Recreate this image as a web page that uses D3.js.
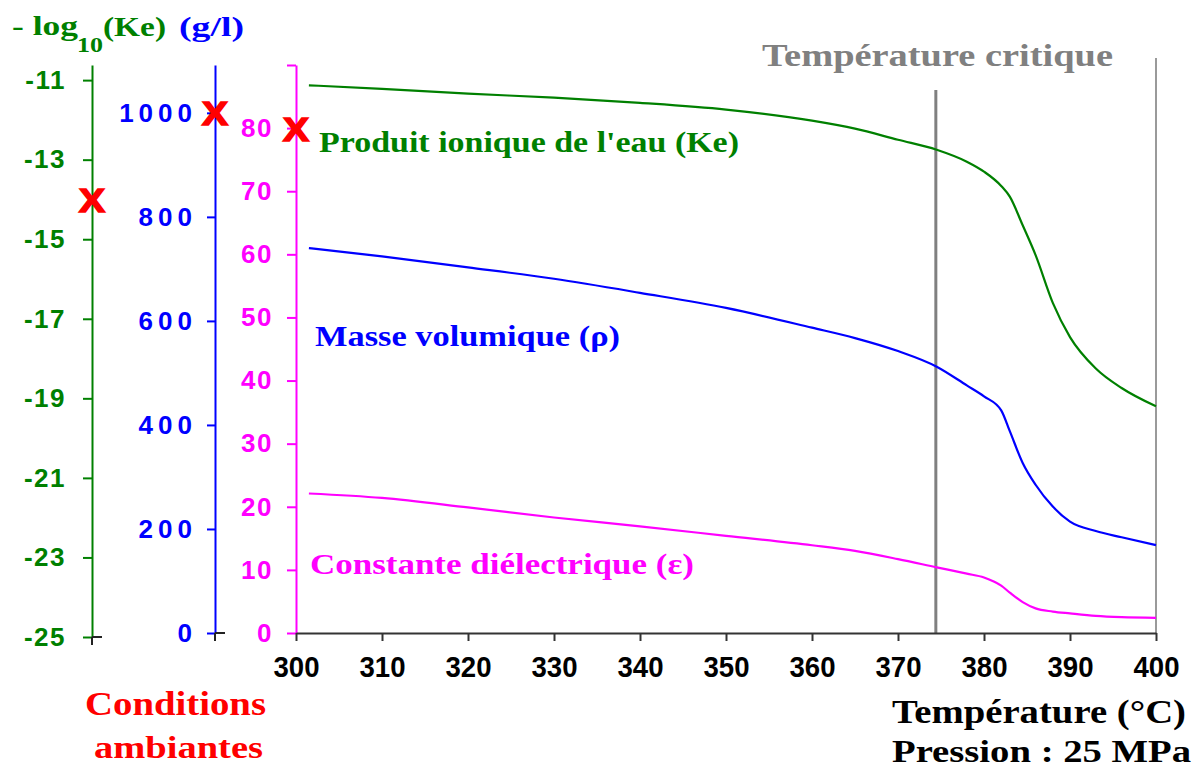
<!DOCTYPE html>
<html><head><meta charset="utf-8">
<script src="https://cdn.jsdelivr.net/npm/d3@7"></script>
<style>body{margin:0;background:#fff;} svg{display:block}</style>
</head><body><svg id="c" width="1199" height="771"></svg>
<script>
// ---- data ----
const temperature = [301.5, 310, 320, 330, 340, 350, 360, 365, 370, 374.5, 378, 380, 382, 383, 384.5, 386, 388, 390, 393, 396, 400];
const logKe       = [-11.13, -11.22, -11.34, -11.44, -11.57, -11.74, -12.02, -12.22, -12.50, -12.75, -13.05, -13.30, -13.66, -13.93, -14.65, -15.4, -16.6, -17.46, -18.25, -18.74, -19.2];
const density     = [740, 724, 703, 681, 654, 625, 587, 567, 542, 512, 476, 455, 428, 388, 327, 285, 243, 214, 196, 184, 169];
const dielectric  = [22.1, 21.4, 19.9, 18.3, 16.9, 15.4, 13.9, 13.0, 11.7, 10.4, 9.4, 8.8, 7.5, 6.4, 4.9, 3.9, 3.4, 3.1, 2.7, 2.5, 2.4];

const xTicks   = [300, 310, 320, 330, 340, 350, 360, 370, 380, 390, 400];
const keTicks  = [-11, -13, -15, -17, -19, -21, -23, -25];
const rhoTicks = [0, 200, 400, 600, 800, 1000];
const epsTicks = [0, 10, 20, 30, 40, 50, 60, 70, 80, 90];

const ambientKe = -14, ambientRho = 1000, ambientEps = 80;
const criticalT = 374.4;

const GREEN = "#008000", BLUE = "#0000ff", MAG = "#ff00ff", RED = "#ff0000", GREY = "#808080";
const SANS = "'Liberation Sans', Arial, sans-serif";
const SERIF = "'Liberation Serif', 'Times New Roman', serif";

const svg = d3.select("#c");

// ---- scales ----
const x    = d3.scaleLinear([300, 400], [296, 1156]);
const yKe  = d3.scaleLinear([-25, -10.62], [637, 65]);
const yRho = d3.scaleLinear([0, 1092], [633, 65]);
const yEps = d3.scaleLinear([0, 90], [633, 65]);

// ---- reference lines ----
svg.append("line").attr("x1", x(400)).attr("x2", x(400)).attr("y1", 58).attr("y2", yEps(0))
  .attr("stroke", "#9a9a9a").attr("stroke-width", 2);
svg.append("line").attr("x1", x(criticalT)).attr("x2", x(criticalT)).attr("y1", 90).attr("y2", yEps(0))
  .attr("stroke", GREY).attr("stroke-width", 3);

// ---- axes ----
function styleAxis(g, color, labelX, spacing) {
  g.select(".domain").attr("stroke", color).attr("stroke-width", 2);
  g.selectAll(".tick line").attr("stroke", color).attr("stroke-width", 2);
  g.selectAll(".tick text").attr("fill", color).attr("x", labelX)
    .style("font-family", SANS).style("font-weight", "bold").style("font-size", "26px")
    .style("letter-spacing", spacing + "px");
}

const gKe = svg.append("g").attr("transform", "translate(92,0)")
  .call(d3.axisLeft(yKe).tickValues(keTicks).tickSizeInner(9).tickSizeOuter(0).tickFormat(d => d));
styleAxis(gKe, GREEN, -26, 1.5);

const gRho = svg.append("g").attr("transform", "translate(215,0)")
  .call(d3.axisLeft(yRho).tickValues(rhoTicks).tickSizeInner(8).tickSizeOuter(0).tickFormat(d => d));
styleAxis(gRho, BLUE, -18, 5);

const gEps = svg.append("g").attr("transform", "translate(296,0)")
  .call(d3.axisLeft(yEps).tickValues(epsTicks).tickSizeInner(9).tickSizeOuter(0).tickFormat(d => d === 90 ? "" : d));
styleAxis(gEps, MAG, -23, 1.5);

const gX = svg.append("g").attr("transform", `translate(0,${yEps(0)})`)
  .call(d3.axisBottom(x).tickValues(xTicks).tickSizeInner(8).tickSizeOuter(0));
gX.select(".domain").attr("stroke", "#333").attr("stroke-width", 2);
gX.selectAll(".tick line").attr("stroke", "#333").attr("stroke-width", 2);
gX.selectAll(".tick text").attr("fill", "#000").attr("y", 33).attr("dy", "0.36em")
  .attr("textLength", 46).attr("lengthAdjust", "spacingAndGlyphs")
  .style("font-family", SANS).style("font-weight", "bold").style("font-size", "30px");

// black stubs at the foot of the green and blue axes
[[92, yKe(-25)], [215, yRho(0)]].forEach(([ax, ay]) => {
  svg.append("line").attr("x1", ax).attr("x2", ax + 10).attr("y1", ay).attr("y2", ay).attr("stroke", "#222").attr("stroke-width", 2);
  svg.append("line").attr("x1", ax).attr("x2", ax).attr("y1", ay).attr("y2", ay + 8).attr("stroke", "#222").attr("stroke-width", 2);
});

// ---- curves ----
function curve(values, yScale, color) {
  const pts = temperature.map((t, i) => [t, values[i]]);
  svg.append("path").datum(pts)
    .attr("fill", "none").attr("stroke", color).attr("stroke-width", 2.2)
    .attr("d", d3.line().x(d => x(d[0])).y(d => yScale(d[1])).curve(d3.curveMonotoneX));
}
curve(logKe, yKe, GREEN);
curve(density, yRho, BLUE);
curve(dielectric, yEps, MAG);

// ---- ambient markers ----
[[92, yKe(ambientKe)], [215, yRho(ambientRho)], [296, yEps(ambientEps)]].forEach(([mx, my]) => {
  svg.append("text").attr("x", mx).attr("y", my + 12.5).attr("text-anchor", "middle")
    .attr("textLength", 26).attr("lengthAdjust", "spacingAndGlyphs")
    .style("font-family", SANS).style("font-weight", "bold").style("font-size", "34px")
    .attr("fill", RED).attr("stroke", RED).attr("stroke-width", 1.6).text("X");
});

// ---- texts ----
function label(str, tx, ty, size, color, len, family) {
  const t = svg.append("text").attr("x", tx).attr("y", ty)
    .style("font-family", family || SERIF).style("font-weight", "bold").style("font-size", size + "px")
    .attr("fill", color).text(str);
  if (len) t.attr("textLength", len).attr("lengthAdjust", "spacingAndGlyphs");
  return t;
}
label("- log", 12, 35, 27, GREEN, 66);
label("10", 77, 52, 22, GREEN, 26);
label("(Ke)", 103, 36, 27, GREEN, 63);
label("(g/l)", 179, 36, 27, BLUE, 65);

label("Température critique", 762, 66, 31, GREY, 351);
label("Produit ionique de l'eau (Ke)", 319, 152, 30, GREEN, 420);
label("Masse volumique  (ρ)", 315, 346, 30, BLUE, 305);
label("Constante diélectrique  (ε)", 310, 574, 30, MAG, 384);

label("Conditions", 85, 715, 33, RED, 181);
label("ambiantes", 94, 758, 32, RED, 169);

label("Température (°C)", 892, 723, 34, "#000", 294);
label("Pression : 25 MPa", 892, 762, 32, "#000", 299);
</script>
</body></html>
